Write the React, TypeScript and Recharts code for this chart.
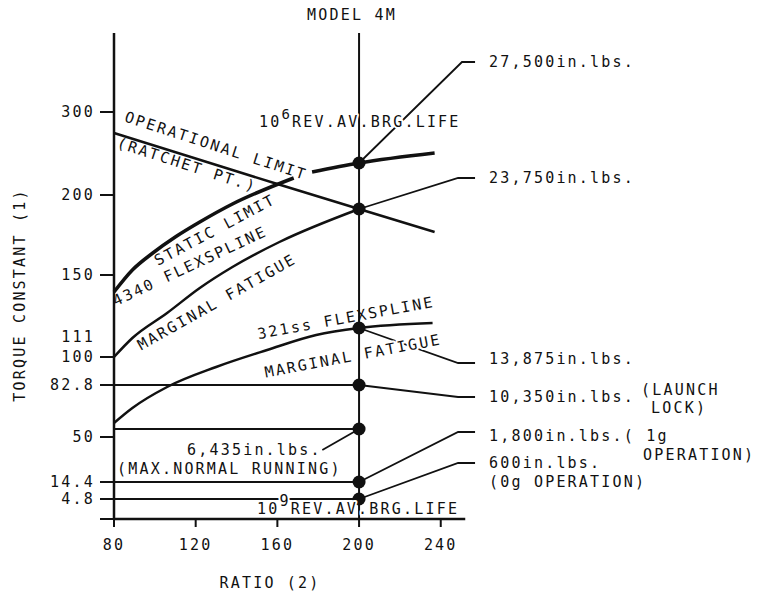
import React from "react"
import {
  ComposedChart,
  Line,
  Scatter,
  XAxis,
  YAxis,
  ReferenceLine,
} from "recharts"

// ratio axis
const xTicks = [80, 120, 160, 200, 240]

// the torque constant axis is not linear, so ticks sit at read-off heights
const yTickPos = [0, 20, 37, 82, 134, 162, 182, 244, 324, 407]
const yTickLabels = ["", "4.8", "14.4", "50", "82.8", "100", "111", "150", "200", "300"]
const yTickMark = [true, true, true, true, true, true, false, true, true, true]

const operationalLimit = [
  { x: 80, y: 386 },
  { x: 160, y: 335 },
  { x: 200, y: 310 },
  { x: 237, y: 287 },
]
const staticLimit4340 = [
  { x: 80, y: 227 },
  { x: 89, y: 249 },
  { x: 99, y: 266 },
  { x: 110, y: 282 },
  { x: 122, y: 297 },
  { x: 138, y: 315 },
  { x: 168, y: 341 },
]
const brgLife1e6 = [
  { x: 177, y: 347 },
  { x: 200, y: 356 },
  { x: 237, y: 366 },
]
const fatigue4340 = [
  { x: 80, y: 162 },
  { x: 89, y: 181 },
  { x: 106, y: 206 },
  { x: 122, y: 231 },
  { x: 138, y: 252 },
  { x: 161, y: 277 },
  { x: 200, y: 310 },
]
const flexspline321 = [
  { x: 80, y: 96 },
  { x: 89, y: 111 },
  { x: 106, y: 132 },
  { x: 130, y: 152 },
  { x: 155, y: 169 },
  { x: 179, y: 184 },
  { x: 200, y: 191 },
  { x: 236, y: 196 },
]
const launchLock = [{ x: 80, y: 134 }, { x: 200, y: 134 }]
const maxRunning = [{ x: 80, y: 90 }, { x: 200, y: 90 }]
const op1g = [{ x: 80, y: 37 }, { x: 200, y: 37 }]
const op0g = [{ x: 80, y: 20 }, { x: 200, y: 20 }]

const model4mPoints = [
  { x: 200, y: 356 },
  { x: 200, y: 310 },
  { x: 200, y: 191 },
  { x: 200, y: 134 },
  { x: 200, y: 90 },
  { x: 200, y: 37 },
  { x: 200, y: 20 },
]

const leaders = [
  [{ x: 200, y: 356 }, { x: 250.4, y: 457 }, { x: 256.8, y: 457 }],
  [{ x: 200, y: 310 }, { x: 248.5, y: 341 }, { x: 256.8, y: 341 }],
  [{ x: 200, y: 191 }, { x: 248.5, y: 156 }, { x: 256.8, y: 156 }],
  [{ x: 200, y: 134 }, { x: 248.5, y: 122 }, { x: 256.8, y: 122 }],
  [{ x: 200, y: 37 }, { x: 248.5, y: 87 }, { x: 256.8, y: 87 }],
  [{ x: 200, y: 20 }, { x: 248.5, y: 56 }, { x: 256.8, y: 56 }],
  [{ x: 200, y: 90 }, { x: 182, y: 69 }],
]

const font = '"DejaVu Sans Mono", "Liberation Mono", monospace'
const txt = { fontFamily: font, fontSize: 15, letterSpacing: 2.2, fill: "#111" }
const knockout = { stroke: "#fff", strokeWidth: 4, paintOrder: "stroke" as const, strokeLinejoin: "round" as const }

function YTick(props: any) {
  const { x, y, payload } = props
  const i = yTickPos.indexOf(payload.value)
  return (
    <g>
      {yTickMark[i] && <line x1={x - 14} x2={x} y1={y} y2={y} stroke="#111" strokeWidth={2} />}
      <text x={x - 19} y={y} textAnchor="end" dominantBaseline="central" {...txt}>
        {yTickLabels[i]}
      </text>
    </g>
  )
}

function XTick(props: any) {
  const { x, y, payload } = props
  return (
    <text x={x} y={y + 18} textAnchor="middle" dominantBaseline="central" {...txt}>
      {payload.value}
    </text>
  )
}

function Rot({ x, y, a, children, ko }: any) {
  return (
    <text
      x={x}
      y={y}
      textAnchor="middle"
      dominantBaseline="central"
      transform={`rotate(${a} ${x} ${y})`}
      {...txt}
      {...(ko ? knockout : {})}
    >
      {children}
    </text>
  )
}

function Notes() {
  return (
    <svg
      width={757}
      height={598}
      style={{ position: "absolute", left: 0, top: 0, pointerEvents: "none" }}
    >
      <text x={352} y={15} textAnchor="middle" dominantBaseline="central" {...txt}>MODEL 4M</text>
      <text x={270} y={583} textAnchor="middle" dominantBaseline="central" {...txt}>RATIO (2)</text>
      <text x={20} y={295} textAnchor="middle" dominantBaseline="central" transform="rotate(-90 20 295)" {...txt}>
        TORQUE CONSTANT (1)
      </text>

      <Rot x={216} y={146} a={18}>OPERATIONAL LIMIT</Rot>
      <Rot x={187} y={165} a={18}>(RATCHET PT.)</Rot>
      <Rot x={215} y={230} a={-28}>STATIC LIMIT</Rot>
      <Rot x={190} y={266} a={-25}>4340 FLEXSPLINE</Rot>
      <Rot x={217} y={302} a={-29.5}>MARGINAL FATIGUE</Rot>
      <Rot x={346} y={318} a={-10.4}>321ss FLEXSPLINE</Rot>
      <Rot x={353} y={356} a={-10.7} ko>MARGINAL FATIGUE</Rot>

      <text x={259} y={127} {...txt} {...knockout}>
        10<tspan dy={-8} fontSize={14}>6</tspan>
        <tspan dy={8}>REV.AV.BRG.LIFE</tspan>
      </text>
      <text x={257} y={514} {...txt} {...knockout}>
        10<tspan dy={-8} fontSize={15}>9</tspan>
        <tspan dy={8}>REV.AV.BRG.LIFE</tspan>
      </text>

      <text x={187} y={450} dominantBaseline="central" {...txt}>6,435in.lbs.</text>
      <text x={117} y={469} dominantBaseline="central" {...txt}>(MAX.NORMAL RUNNING)</text>

      <text x={489} y={62} dominantBaseline="central" {...txt}>27,500in.lbs.</text>
      <text x={489} y={178} dominantBaseline="central" {...txt}>23,750in.lbs.</text>
      <text x={489} y={359} dominantBaseline="central" {...txt}>13,875in.lbs.</text>
      <text x={489} y={397} dominantBaseline="central" {...txt}>10,350in.lbs.</text>
      <text x={641} y={390} dominantBaseline="central" {...txt}>(LAUNCH</text>
      <text x={651} y={408} dominantBaseline="central" {...txt}>LOCK)</text>
      <text x={489} y={436} dominantBaseline="central" {...txt}>1,800in.lbs.( 1g</text>
      <text x={643} y={455} dominantBaseline="central" {...txt}>OPERATION)</text>
      <text x={489} y={463} dominantBaseline="central" {...txt}>600in.lbs.</text>
      <text x={489} y={482} dominantBaseline="central" {...txt}>(0g OPERATION)</text>
    </svg>
  )
}

const curve = (data: { x: number; y: number }[], w: number, key: string, type: any = "monotone") => (
  <Line
    key={key}
    data={data}
    dataKey="y"
    type={type}
    stroke="#111"
    strokeWidth={w}
    dot={false}
    activeDot={false}
    isAnimationActive={false}
  />
)

export default function App() {
  return (
    <div style={{ position: "absolute", left: 0, top: 0, width: 757, height: 598, background: "#fff" }}>
      <ComposedChart
        width={757}
        height={598}
        margin={{ top: 33, right: 279.5, left: 14, bottom: 39 }}
      >
        <XAxis
          type="number"
          dataKey="x"
          domain={[80, 258]}
          ticks={xTicks}
          interval={0}
          axisLine={false}
          tickLine={{ stroke: "#111", strokeWidth: 2 }}
          tickSize={8}
          tickMargin={0}
          height={40}
          tick={<XTick />}
        />
        <YAxis
          type="number"
          dataKey="y"
          domain={[0, 486]}
          ticks={yTickPos}
          interval={0}
          width={100}
          axisLine={{ stroke: "#111", strokeWidth: 2.5 }}
          tickLine={false}
          tickSize={0}
          tickMargin={0}
          tick={<YTick />}
        />
        <ReferenceLine x={200} stroke="#111" strokeWidth={2} />
        <ReferenceLine segment={[{ x: 80, y: 0 }, { x: 252, y: 0 }]} stroke="#111" strokeWidth={2.5} />

        {curve(operationalLimit, 2.5, "op", "linear")}
        {curve(staticLimit4340, 3.5, "static")}
        {curve(brgLife1e6, 3.5, "brg6")}
        {curve(fatigue4340, 2.5, "fat4340")}
        {curve(flexspline321, 2.5, "ss321")}
        {curve(launchLock, 2, "ll", "linear")}
        {curve(maxRunning, 2, "mr", "linear")}
        {curve(op1g, 2, "1g", "linear")}
        {curve(op0g, 2, "0g", "linear")}
        {leaders.map((d, i) => curve(d, 1.8, "lead" + i, "linear"))}

        <Scatter
          data={model4mPoints}
          dataKey="y"
          fill="#111"
          isAnimationActive={false}
          shape={(p: any) => <circle cx={p.cx} cy={p.cy} r={6.5} fill="#111" />}
        />
      </ComposedChart>
      <Notes />
    </div>
  )
}
